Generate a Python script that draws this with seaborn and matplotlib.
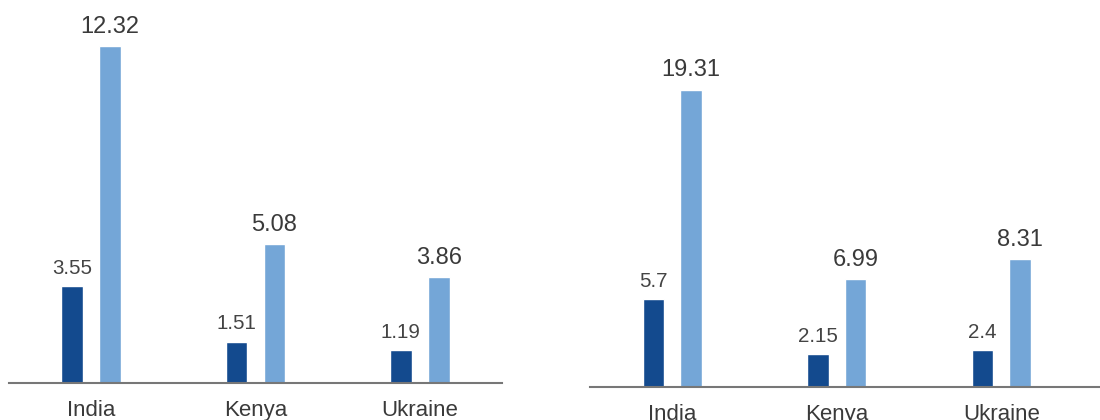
import matplotlib
matplotlib.use("Agg")
import matplotlib.pyplot as plt
import seaborn as sns
import pandas as pd

countries = ["India", "Kenya", "Ukraine"]
series_names = ["Series A", "Series B"]
left_a = [3.55, 1.51, 1.19]
left_b = [12.32, 5.08, 3.86]
right_a = [5.7, 2.15, 2.4]
right_b = [19.31, 6.99, 8.31]
left_a_labels = ["3.55", "1.51", "1.19"]
left_b_labels = ["12.32", "5.08", "3.86"]
right_a_labels = ["5.7", "2.15", "2.4"]
right_b_labels = ["19.31", "6.99", "8.31"]

sns.set_theme(style="white")
plt.rcParams["font.family"] = ["Liberation Sans", "DejaVu Sans"]

DARK = "#134A8E"
LIGHT = "#74A6D7"
TEXT = "#3A3A3A"


def make_df(a, b):
    rows = []
    for c, v in zip(countries, a):
        rows.append({"country": c, "series": series_names[0], "value": v})
    for c, v in zip(countries, b):
        rows.append({"country": c, "series": series_names[1], "value": v})
    return pd.DataFrame(rows)


fig = plt.figure(figsize=(11, 4.2), dpi=100)
W, H = 1100, 420

panels = [
    dict(a=left_a, b=left_b, la=left_a_labels, lb=left_b_labels,
         rect=(9 / W, (H - 383) / H, 493 / W, 383 / H), ylim=14.0, xlim=(-0.5, 2.5)),
    dict(a=right_a, b=right_b, la=right_a_labels, lb=right_b_labels,
         rect=(590 / W, (H - 387) / H, 510 / W, 385 / H), ylim=25.0, xlim=(-0.5, 2.6)),
]

for p in panels:
    ax = fig.add_axes(p["rect"])
    df = make_df(p["a"], p["b"])
    sns.barplot(data=df, x="country", y="value", hue="series",
                palette=[DARK, LIGHT], width=0.46, gap=0.43,
                saturation=1, ax=ax, legend=False, errorbar=None)
    ax.set_ylim(0, p["ylim"])
    ax.set_xlim(*p["xlim"])
    ax.bar_label(ax.containers[0], labels=p["la"], padding=6,
                 fontsize=14.8, color="#444444")
    ax.bar_label(ax.containers[1], labels=p["lb"], padding=6,
                 fontsize=17, color=TEXT)
    for s in ["top", "right", "left"]:
        ax.spines[s].set_visible(False)
    ax.spines["bottom"].set_color("#777777")
    ax.spines["bottom"].set_linewidth(1.5)
    ax.set_yticks([])
    ax.set_xlabel("")
    ax.set_ylabel("")
    ax.tick_params(axis="x", length=0, pad=12, labelsize=16, labelcolor=TEXT)
    ax.patch.set_alpha(0)

fig.savefig("out.png", dpi=100)
